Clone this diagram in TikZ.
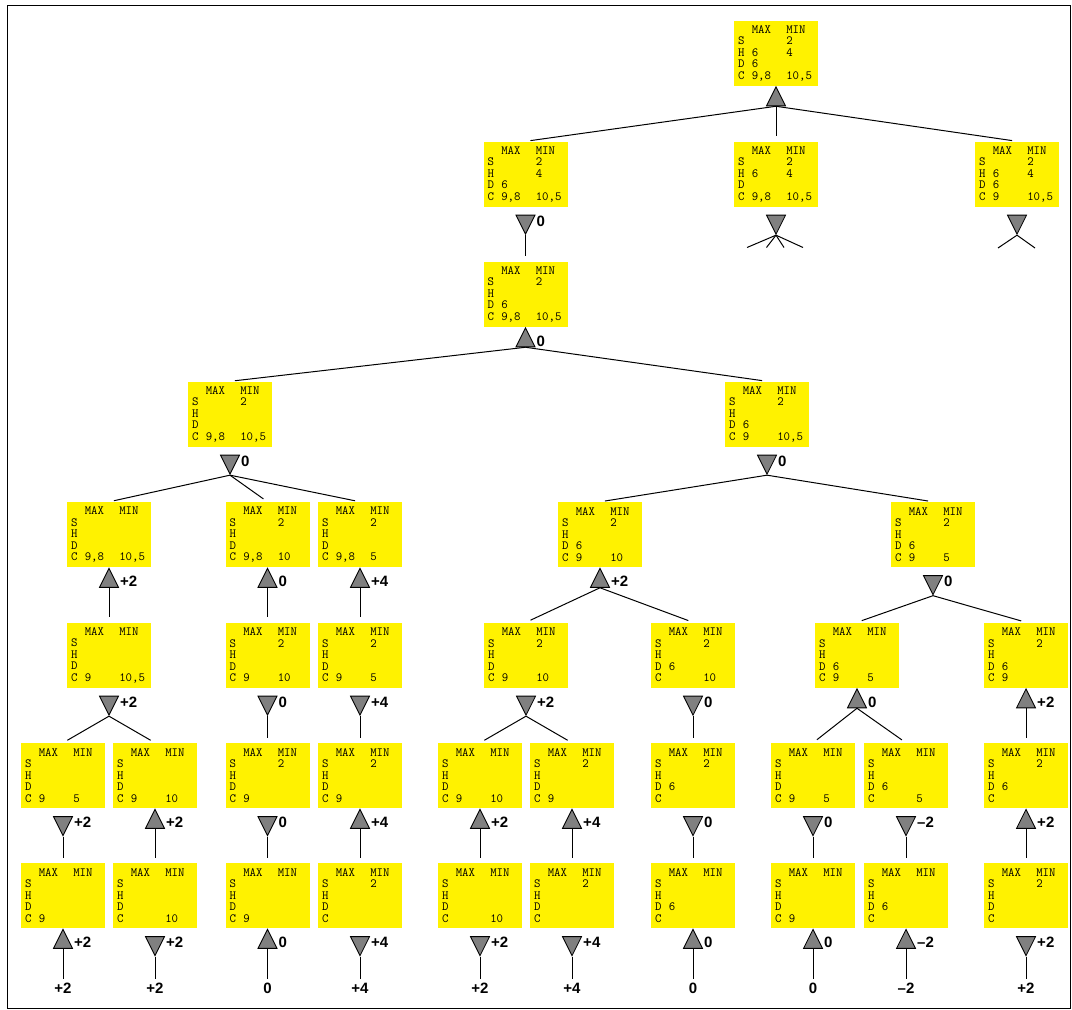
\documentclass[tikz,border=0pt]{standalone}
\usepackage{fontspec}
\setmainfont{Liberation Sans}
\usetikzlibrary{shapes.geometric}

% one row of a hand: suit, MAX cards, MIN cards
\newcommand\crow[3]{\makebox[13.8pt][l]{#1}\makebox[34.5pt][l]{#2}#3}
\newcommand\hand[8]{\crow{}{MAX}{MIN}\\\crow{S}{#1}{#2}\\\crow{H}{#3}{#4}\\\crow{D}{#5}{#6}\\\crow{C}{#7}{#8}}

\tikzset{
  hand/.style={fill=yellow, text width=76pt, inner xsep=4pt, inner ysep=0pt,
    minimum height=65pt, align=left, font=\ttfamily\fontsize{12.5}{11.5}\selectfont},
  tri/.style={isosceles triangle, isosceles triangle stretches, minimum width=19pt,
    minimum height=19pt, inner sep=0pt, fill=gray, draw=black, line width=0.8pt},
  tri up/.style={tri, shape border rotate=90},
  tri down/.style={tri, shape border rotate=270},
  tlbl/.style={font=\bfseries\fontsize{15}{15}\selectfont, inner sep=0pt, label distance=4pt},
  val/.style={font=\bfseries\fontsize{15}{15}\selectfont, inner sep=4pt},
  link/.style={line width=1pt, shorten >=5pt}
}

\begin{document}
\begin{tikzpicture}[x=1pt,y=-1pt]
        \useasboundingbox (0,0) rectangle (1072,1010);
        \draw[line width=1pt] (7,5) rectangle (1070,1008);

        % the hands
        \node[hand] (r)  at (776,53)   {\hand{}{2}{6}{4}{6}{}{9,8}{10,5}};
        \node[hand] (a1) at (525.5,174) {\hand{}{2}{}{4}{6}{}{9,8}{10,5}};
        \node[hand] (a2) at (776,174)   {\hand{}{2}{6}{4}{}{}{9,8}{10,5}};
        \node[hand] (a3) at (1017,174)  {\hand{}{2}{6}{4}{6}{}{9}{10,5}};
        \node[hand] (b)  at (525.5,294) {\hand{}{2}{}{}{6}{}{9,8}{10,5}};
        \node[hand] (c1) at (230,414)   {\hand{}{2}{}{}{}{}{9,8}{10,5}};
        \node[hand] (c2) at (767,414)   {\hand{}{2}{}{}{6}{}{9}{10,5}};
        \node[hand] (d1) at (109,534.5)   {\hand{}{}{}{}{}{}{9,8}{10,5}};
        \node[hand] (d2) at (267.5,534.5) {\hand{}{2}{}{}{}{}{9,8}{10}};
        \node[hand] (d3) at (360,534.5)   {\hand{}{2}{}{}{}{}{9,8}{5}};
        \node[hand] (d4) at (600,534.5)   {\hand{}{2}{}{}{6}{}{9}{10}};
        \node[hand] (d5) at (933,534.5)   {\hand{}{2}{}{}{6}{}{9}{5}};
        \node[hand] (e1) at (109,655)   {\hand{}{}{}{}{}{}{9}{10,5}};
        \node[hand] (e2) at (267.5,655) {\hand{}{2}{}{}{}{}{9}{10}};
        \node[hand] (e3) at (360,655)   {\hand{}{2}{}{}{}{}{9}{5}};
        \node[hand] (e4) at (526,655)   {\hand{}{2}{}{}{}{}{9}{10}};
        \node[hand] (e5) at (693,655)   {\hand{}{2}{}{}{6}{}{}{10}};
        \node[hand] (e6) at (857,655)   {\hand{}{}{}{}{6}{}{9}{5}};
        \node[hand] (e7) at (1026,655)  {\hand{}{2}{}{}{6}{}{9}{}};
        \node[hand] (f1)  at (63,775.5)    {\hand{}{}{}{}{}{}{9}{5}};
        \node[hand] (f2)  at (155,775.5)   {\hand{}{}{}{}{}{}{9}{10}};
        \node[hand] (f3)  at (267.5,775.5) {\hand{}{2}{}{}{}{}{9}{}};
        \node[hand] (f4)  at (360,775.5)   {\hand{}{2}{}{}{}{}{9}{}};
        \node[hand] (f5)  at (480,775.5)   {\hand{}{}{}{}{}{}{9}{10}};
        \node[hand] (f6)  at (572,775.5)   {\hand{}{2}{}{}{}{}{9}{}};
        \node[hand] (f7)  at (693,775.5)   {\hand{}{2}{}{}{6}{}{}{}};
        \node[hand] (f8)  at (813,775.5)   {\hand{}{}{}{}{}{}{9}{5}};
        \node[hand] (f9)  at (906,775.5)   {\hand{}{}{}{}{6}{}{}{5}};
        \node[hand] (f10) at (1026,775.5)  {\hand{}{2}{}{}{6}{}{}{}};
        \node[hand] (g1)  at (63,895.5)    {\hand{}{}{}{}{}{}{9}{}};
        \node[hand] (g2)  at (155,895.5)   {\hand{}{}{}{}{}{}{}{10}};
        \node[hand] (g3)  at (267.5,895.5) {\hand{}{}{}{}{}{}{9}{}};
        \node[hand] (g4)  at (360,895.5)   {\hand{}{2}{}{}{}{}{}{}};
        \node[hand] (g5)  at (480,895.5)   {\hand{}{}{}{}{}{}{}{10}};
        \node[hand] (g6)  at (572,895.5)   {\hand{}{2}{}{}{}{}{}{}};
        \node[hand] (g7)  at (693,895.5)   {\hand{}{}{}{}{6}{}{}{}};
        \node[hand] (g8)  at (813,895.5)   {\hand{}{}{}{}{}{}{9}{}};
        \node[hand] (g9)  at (906,895.5)   {\hand{}{}{}{}{6}{}{}{}};
        \node[hand] (g10) at (1026,895.5)  {\hand{}{2}{}{}{}{}{}{}};

        % the triangles under the hands, with their scores
        \foreach \n/\x/\y/\s/\v in {
            r/776/100/up/{},
            a1/525.5/221/down/0, a2/776/221/down/{}, a3/1017/221/down/{},
            b/525.5/341/up/0,
            c1/230/461/down/0, c2/767/461/down/0,
            d1/109/581.5/up/+2, d2/267.5/581.5/up/0, d3/360/581.5/up/+4,
            d4/600/581.5/up/+2, d5/933/581.5/down/0,
            e1/109/702/down/+2, e2/267.5/702/down/0, e3/360/702/down/+4,
            e4/526/702/down/+2, e5/693/702/down/0, e6/857/702/up/0, e7/1026/702/up/+2,
            f1/63/822.5/down/+2, f2/155/822.5/up/+2, f3/267.5/822.5/down/0,
            f4/360/822.5/up/+4, f5/480/822.5/up/+2, f6/572/822.5/up/+4,
            f7/693/822.5/down/0, f8/813/822.5/down/0, f9/906/822.5/down/–2,
            f10/1026/822.5/up/+2,
            g1/63/942.5/up/+2, g2/155/942.5/down/+2, g3/267.5/942.5/up/0,
            g4/360/942.5/down/+4, g5/480/942.5/down/+2, g6/572/942.5/down/+4,
            g7/693/942.5/up/0, g8/813/942.5/up/0, g9/906/942.5/up/–2,
            g10/1026/942.5/down/+2}
                \node[tri \s, label={[tlbl]right:\v}] (t\n) at (\x,\y) {};

        % the final scores
        \foreach \i/\x/\v in {1/63/+2, 2/155/+2, 3/267.5/0, 4/360/+4, 5/480/+2,
            6/572/+4, 7/693/0, 8/813/0, 9/906/–2, 10/1026/+2}
                \node[val] (v\i) at (\x,988) {\v};

        % links from each triangle to the next hands
        \foreach \p/\c in {r/a1, r/a2, r/a3, a1/b, b/c1, b/c2,
            c1/d1, c1/d2, c1/d3, c2/d4, c2/d5,
            d1/e1, d2/e2, d3/e3, d4/e4, d4/e5, d5/e6, d5/e7,
            e1/f1, e1/f2, e2/f3, e3/f4, e4/f5, e4/f6, e5/f7, e6/f8, e6/f9, e7/f10,
            f1/g1, f2/g2, f3/g3, f4/g4, f5/g5, f6/g6, f7/g7, f8/g8, f9/g9, f10/g10}
                \draw[link] (t\p.south) -- (\c.north);
        \foreach \i in {1,...,10}
                \draw[line width=1pt] (tg\i.south) -- (v\i.north);

        % the branches that are not followed
        \coordinate (m1) at (747,247.5);
        \coordinate (m2) at (766.5,247.5);
        \coordinate (m3) at (784,247.5);
        \coordinate (m4) at (803,247.5);
        \coordinate (k1) at (998,248);
        \coordinate (k2) at (1035,248);
        \foreach \e in {m1,m2,m3,m4}
                \draw[line width=1pt] (ta2.south) -- (\e);
        \foreach \e in {k1,k2}
                \draw[line width=1pt] (ta3.south) -- (\e);
\end{tikzpicture}
\end{document}
